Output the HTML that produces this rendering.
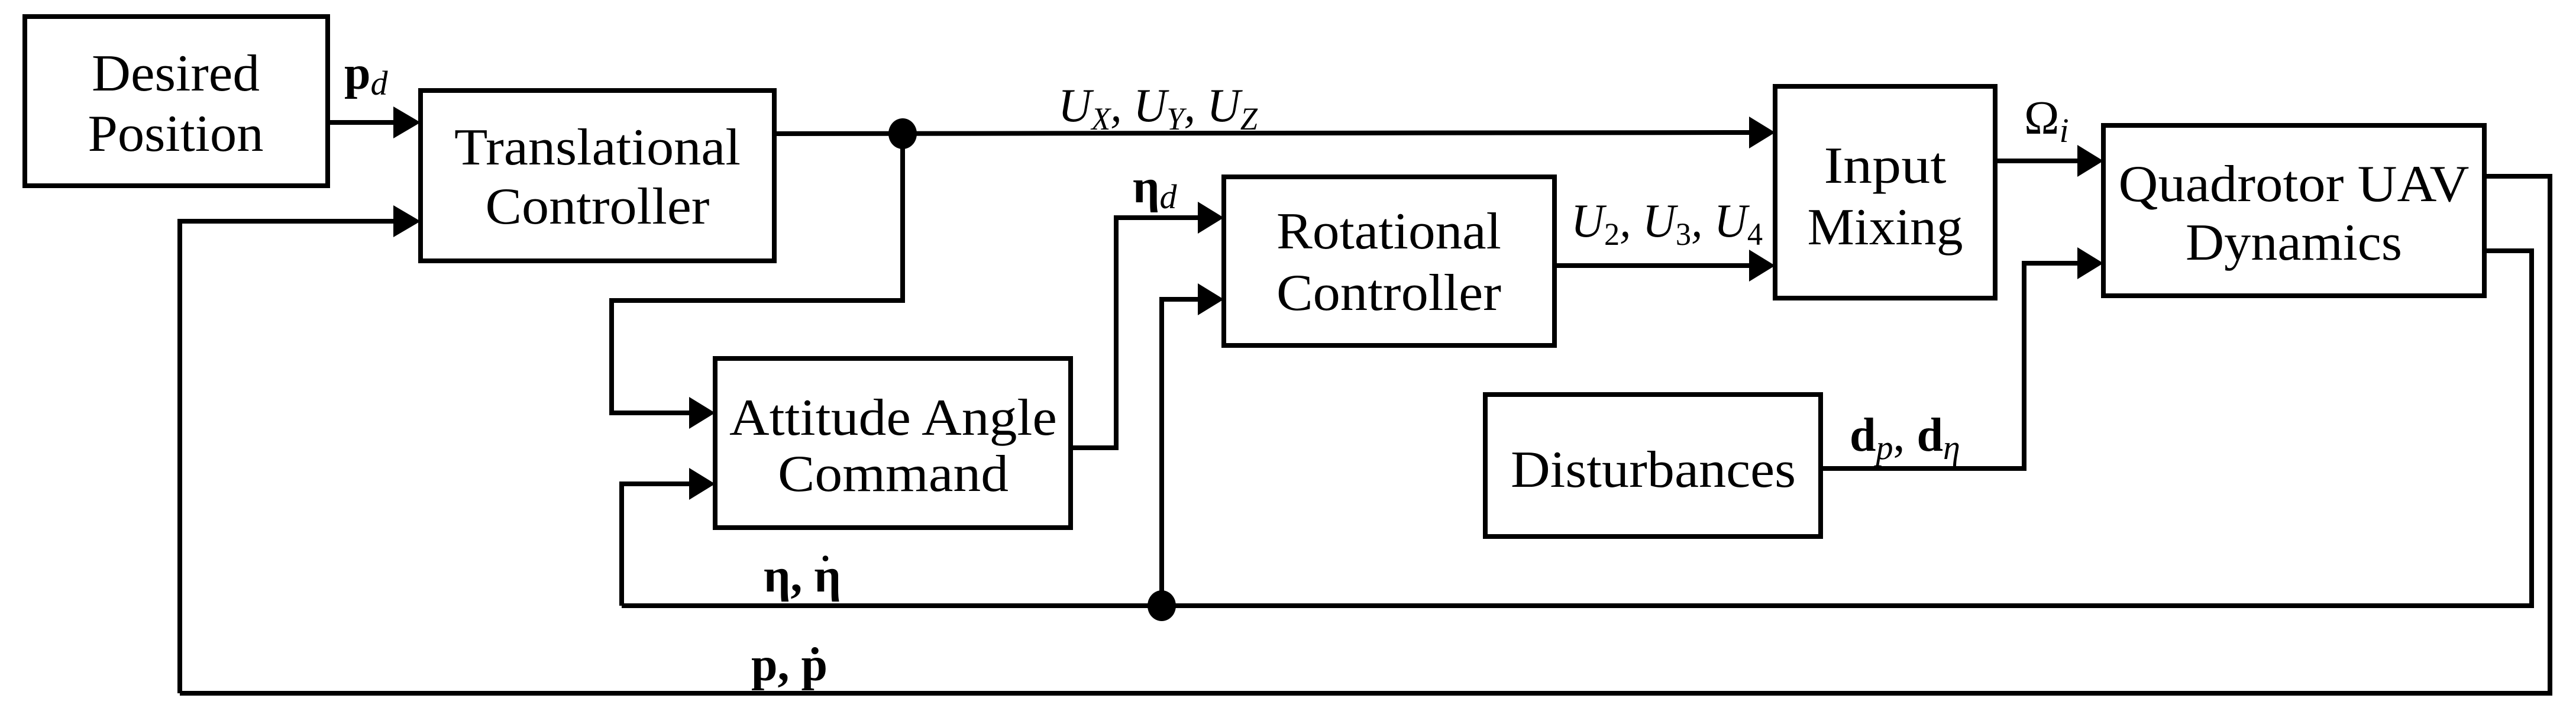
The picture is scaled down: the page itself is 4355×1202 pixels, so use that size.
<!DOCTYPE html>
<html><head><meta charset="utf-8"><style>
html,body{margin:0;padding:0;background:#fff;}
svg{display:block;}
text{font-family:"Liberation Serif",serif;fill:#000;}
</style></head><body>
<svg width="4355" height="1202" viewBox="0 0 4355 1202" xmlns="http://www.w3.org/2000/svg">
<g fill="none" stroke="#000" stroke-width="8">
<rect x="42" y="28" width="512" height="286"/>
<rect x="711" y="153" width="598" height="288"/>
<rect x="1209" y="606" width="601" height="286"/>
<rect x="2069" y="299" width="559" height="285"/>
<rect x="3001" y="146" width="372" height="358"/>
<rect x="3556" y="212" width="644" height="288"/>
<rect x="2511" y="667" width="567" height="240"/>
<polyline points="554,207 665,207"/>
<polyline points="304,1172 304,374 665,374"/>
<polyline points="1309,226 2957,224"/>
<polyline points="1526,226 1526,508 1034,508 1034,698 1165,698"/>
<polyline points="1051,1024 1051,818 1165,818"/>
<polyline points="1810,757 1887,757 1887,368 2025,368"/>
<polyline points="1964,1024 1964,506 2025,506"/>
<polyline points="2628,449 2957,449"/>
<polyline points="3373,272 3512,272"/>
<polyline points="3078,792 3422,792 3422,445 3512,445"/>
<polyline points="4200,298 4311,298 4311,1172 304,1172"/>
<polyline points="4200,424 4280,424 4280,1024 1051,1024"/>
</g>
<g fill="#000">
<polygon points="665,180 711,207 665,234"/>
<polygon points="665,347 711,374 665,401"/>
<polygon points="2957,197 3001,224 2957,251"/>
<polygon points="1165,671 1209,698 1165,725"/>
<polygon points="1165,791 1209,818 1165,845"/>
<polygon points="2025,341 2069,368 2025,395"/>
<polygon points="2025,479 2069,506 2025,533"/>
<polygon points="2957,422 3001,449 2957,476"/>
<polygon points="3512,245 3556,272 3512,299"/>
<polygon points="3512,418 3556,445 3512,472"/>
<ellipse cx="1526" cy="226" rx="24" ry="26"/>
<ellipse cx="1964" cy="1024" rx="24" ry="26"/>
</g>
<g font-size="88" text-anchor="middle">
<text x="297" y="153" textLength="284" lengthAdjust="spacingAndGlyphs">Desired</text>
<text x="297" y="255" textLength="297" lengthAdjust="spacingAndGlyphs">Position</text>
<text x="1010" y="278" textLength="484" lengthAdjust="spacingAndGlyphs">Translational</text>
<text x="1010" y="378" textLength="379" lengthAdjust="spacingAndGlyphs">Controller</text>
<text x="1510" y="735" textLength="554" lengthAdjust="spacingAndGlyphs">Attitude Angle</text>
<text x="1510" y="830" textLength="390" lengthAdjust="spacingAndGlyphs">Command</text>
<text x="2348" y="420" textLength="380" lengthAdjust="spacingAndGlyphs">Rotational</text>
<text x="2348" y="524" textLength="380" lengthAdjust="spacingAndGlyphs">Controller</text>
<text x="3187" y="309" textLength="207" lengthAdjust="spacingAndGlyphs">Input</text>
<text x="3187" y="413" textLength="263" lengthAdjust="spacingAndGlyphs">Mixing</text>
<text x="3878" y="340" textLength="593" lengthAdjust="spacingAndGlyphs">Quadrotor UAV</text>
<text x="3878" y="439" textLength="366" lengthAdjust="spacingAndGlyphs">Dynamics</text>
<text x="2795" y="823" textLength="482" lengthAdjust="spacingAndGlyphs">Disturbances</text>
</g>
<g font-size="80">
<text x="582" y="150"><tspan font-weight="bold">p</tspan><tspan font-style="italic" font-size="58" dy="10">d</tspan></text>
<text x="1789" y="205" font-style="italic" textLength="337" lengthAdjust="spacingAndGlyphs">U<tspan font-size="54" dy="14">X</tspan><tspan dy="-14">, U</tspan><tspan font-size="54" dy="14">Y</tspan><tspan dy="-14">, U</tspan><tspan font-size="54" dy="14">Z</tspan></text>
<text x="1915" y="342"><tspan font-weight="bold">η</tspan><tspan font-style="italic" font-size="58" dy="10">d</tspan></text>
<text x="2656" y="400" font-style="italic" textLength="324" lengthAdjust="spacingAndGlyphs">U<tspan font-size="54" dy="14" font-style="normal">2</tspan><tspan dy="-14">, U</tspan><tspan font-size="54" dy="14" font-style="normal">3</tspan><tspan dy="-14">, U</tspan><tspan font-size="54" dy="14" font-style="normal">4</tspan></text>
<text x="3422" y="226">Ω<tspan font-style="italic" font-size="58" dy="14">i</tspan></text>
<text x="3127" y="762"><tspan font-weight="bold">d</tspan><tspan font-style="italic" font-size="58" dy="14">p</tspan><tspan dy="-14">, </tspan><tspan font-weight="bold">d</tspan><tspan font-style="italic" font-size="58" dy="14">η</tspan></text>
<text x="1291" y="1000" font-weight="bold">η, η</text>
<text x="1388" y="948" font-weight="bold" font-size="60">.</text>
<text x="1270" y="1150" font-weight="bold">p, ṗ</text>
</g>
</svg>
</body></html>
